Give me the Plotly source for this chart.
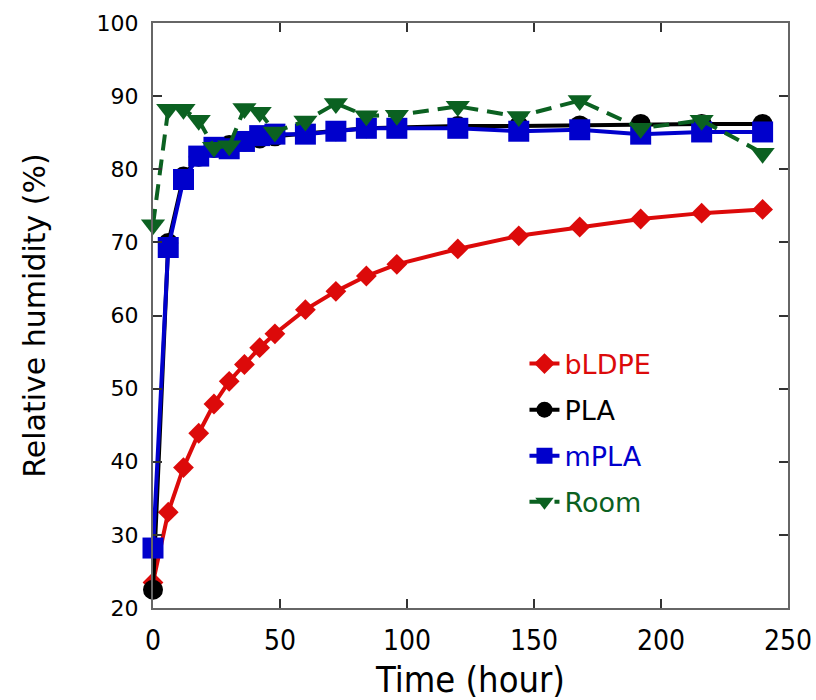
import plotly.graph_objects as go

time_h = [0, 6, 12, 18, 24, 30, 36, 42, 48, 60, 72, 84, 96, 120, 144, 168, 192, 216, 240]
bldpe = [23.5, 33.1, 39.2, 43.9, 47.9, 51.0, 53.3, 55.6, 57.5, 60.8, 63.3, 65.4, 67.0, 69.1, 70.9, 72.1, 73.2, 74.0, 74.5]
pla = [22.5, 69.9, 79.0, 81.7, 82.9, 83.3, 83.8, 84.2, 84.5, 84.9, 85.2, 85.6, 85.7, 85.9, 85.9, 86.0, 86.2, 86.2, 86.2]
mpla = [28.2, 69.3, 78.6, 81.8, 83.0, 82.8, 83.8, 84.6, 84.8, 84.8, 85.2, 85.6, 85.6, 85.6, 85.2, 85.4, 84.8, 85.1, 85.1]
room = [72.4, 88.2, 88.2, 86.7, 83.0, 83.2, 88.3, 87.8, 85.1, 86.6, 89.0, 87.3, 87.4, 88.6, 87.2, 89.4, 85.6, 86.7, 82.2]

series_names = ["bLDPE", "PLA", "mPLA", "Room"]
x_ticks = [0, 50, 100, 150, 200, 250]
y_ticks = [20, 30, 40, 50, 60, 70, 80, 90, 100]

RED = "#DC0A0A"
BLACK = "#000000"
BLUE = "#0000CC"
GREEN = "#0B6121"

NARROW = "Liberation Sans Narrow, DejaVu Sans Condensed, Roboto Condensed, Arial Narrow, sans-serif"

fig = go.Figure()

specs = [
    (bldpe, series_names[0], RED, "diamond", 16, "solid"),
    (pla, series_names[1], BLACK, "circle", 20, "solid"),
    (mpla, series_names[2], BLUE, "square", 21, "solid"),
    (room, series_names[3], GREEN, "triangle-down", 21, "16px,9px"),
]
for vals, name, col, sym, size, dash in specs:
    fig.add_trace(go.Scatter(
        x=time_h, y=vals, mode="lines+markers",
        name=f"<span style='color:{col}'>{name}</span>",
        legendgroup=name,
        line=dict(color=col, width=4, dash=dash),
        marker=dict(symbol=sym, size=size, color=col, line=dict(width=0)),
        cliponaxis=False,
    ))

axis_common = dict(
    showgrid=False, zeroline=False, automargin=False,
    showline=True, linecolor="#666666", linewidth=2,
    mirror="ticks", ticks="inside", ticklen=9, tickwidth=1.5, tickcolor="#333333",
)

fig.update_layout(
    width=816, height=700,
    paper_bgcolor="white", plot_bgcolor="white",
    margin=dict(l=153, r=28, t=23, b=92),
    showlegend=True,
    legend=dict(
        x=0.585, y=0.459, xanchor="left", yanchor="top",
        bgcolor="rgba(0,0,0,0)",
        font=dict(family="DejaVu Sans", size=27, color="black"),
        tracegroupgap=8,
    ),
    xaxis=dict(
        range=[0, 250], tickvals=x_ticks,
        tickfont=dict(family=NARROW, size=28, color="black"),
        title=dict(text="Time (hour)", standoff=15,
                   font=dict(family=NARROW, size=36, color="black")),
        ticklabelstandoff=6,
        **axis_common,
    ),
    yaxis=dict(
        range=[20, 100], tickvals=y_ticks,
        tickfont=dict(family="DejaVu Sans", size=22, color="black"),
        title=dict(text="Relative humidity (%)", standoff=42,
                   font=dict(family="DejaVu Sans", size=30, color="black")),
        ticklabelstandoff=8,
        **axis_common,
    ),
)

fig.write_html("out.html", config={"displayModeBar": False},
               post_script="document.body.style.margin='0';")
